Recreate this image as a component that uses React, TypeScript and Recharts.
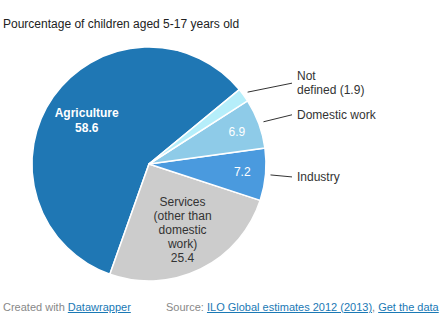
import React from 'react';
import { PieChart, Pie, Cell } from 'recharts';

const CATEGORIES = ['Agriculture', 'Services', 'Industry', 'Domestic work', 'Not defined'];
const VALUES = [58.6, 25.4, 7.2, 6.9, 1.9];

const COLORS: Record<string, string> = {
  Agriculture: '#1f77b4',
  Services: '#cccccc',
  Industry: '#4a9ade',
  'Domestic work': '#8ecbe8',
  'Not defined': '#b5eefa',
};

// which slices get their name outside with a leader line
const OUTSIDE = ['Industry', 'Domestic work', 'Not defined'];
const LEADER_DY: Record<string, number> = { Industry: 2, 'Domestic work': -7, 'Not defined': -9 };

const data = CATEGORIES.map((name, i) => ({ name, value: VALUES[i] }));

const FONT = 'Arial, "Liberation Sans", Helvetica, sans-serif';
const RAD = Math.PI / 180;

const SliceLabel = (props: any) => {
  const { cx, cy, midAngle, outerRadius, name, value } = props;
  const big = value > 20;
  const rIn = outerRadius * (big ? 0.65 : 0.8);
  const ix = cx + rIn * Math.cos(-midAngle * RAD);
  const iy = cy + rIn * Math.sin(-midAngle * RAD);
  const out: React.ReactNode[] = [];

  if (name === 'Agriculture') {
    out.push(
      <text key="in" x={ix} y={iy} textAnchor="middle" fill="#fff" fontSize={12} fontWeight="bold" fontFamily={FONT}>
        <tspan x={ix} dy={-3}>Agriculture</tspan>
        <tspan x={ix} dy={15}>{value}</tspan>
      </text>
    );
  } else if (name === 'Services') {
    const lines = ['Services', '(other than', 'domestic', 'work)', String(value)];
    out.push(
      <text key="in" x={ix} y={iy} textAnchor="middle" fill="#333" fontSize={12} fontFamily={FONT}>
        {lines.map((l, k) => (
          <tspan key={k} x={ix} dy={k === 0 ? -26 : 14}>{l}</tspan>
        ))}
      </text>
    );
  } else if (name !== 'Not defined') {
    out.push(
      <text key="in" x={ix} y={iy + 4} textAnchor="middle" fill="#fff" fontSize={12} fontFamily={FONT}>
        {value}
      </text>
    );
  }

  if (OUTSIDE.includes(name)) {
    const sx = cx + (outerRadius + 5) * Math.cos(-midAngle * RAD);
    const sy = cy + (outerRadius + 5) * Math.sin(-midAngle * RAD);
    const ex = cx + outerRadius + 26;
    const ey = sy + LEADER_DY[name];
    const tx = ex + 5;
    out.push(<line key="l" x1={sx} y1={sy} x2={ex} y2={ey} stroke="#333" strokeWidth={1} />);
    if (name === 'Not defined') {
      out.push(
        <text key="o" x={tx} y={ey} fill="#333" fontSize={12} fontFamily={FONT}>
          <tspan x={tx} dy={-3}>Not</tspan>
          <tspan x={tx} dy={14}>{`defined (${value})`}</tspan>
        </text>
      );
    } else {
      out.push(
        <text key="o" x={tx} y={ey + 4} fill="#333" fontSize={12} fontFamily={FONT}>
          {name}
        </text>
      );
    }
  }
  return <g>{out}</g>;
};

const linkStyle: React.CSSProperties = { color: '#1a79b5', textDecoration: 'underline' };

export default function App() {
  return (
    <div style={{ position: 'absolute', left: 0, top: 0, width: 445, height: 323, background: '#fff', fontFamily: FONT }}>
      <div style={{ position: 'absolute', left: 3, top: 17, fontSize: 12, color: '#222', whiteSpace: 'nowrap' }}>
        Pourcentage of children aged 5-17 years old
      </div>
      <PieChart
        width={445}
        height={323}
        margin={{ top: 0, right: 0, bottom: 0, left: 0 }}
        style={{ position: 'absolute', left: 0, top: 0 }}
      >
        <Pie
          data={data}
          dataKey="value"
          nameKey="name"
          cx={149}
          cy={164}
          outerRadius={117}
          startAngle={39.5}
          endAngle={399.5}
          stroke="#fff"
          strokeWidth={1.5}
          label={SliceLabel}
          labelLine={false}
          isAnimationActive={false}
        >
          {data.map((d) => (
            <Cell key={d.name} fill={COLORS[d.name]} />
          ))}
        </Pie>
      </PieChart>
      <div style={{ position: 'absolute', left: 3, top: 301, fontSize: 11, color: '#888', whiteSpace: 'nowrap' }}>
        Created with <span style={linkStyle}>Datawrapper</span>
      </div>
      <div style={{ position: 'absolute', left: 166, top: 301, fontSize: 11, color: '#888', whiteSpace: 'nowrap' }}>
        Source: <span style={linkStyle}>ILO Global estimates 2012 (2013)</span>, <span style={linkStyle}>Get the data</span>
      </div>
    </div>
  );
}
